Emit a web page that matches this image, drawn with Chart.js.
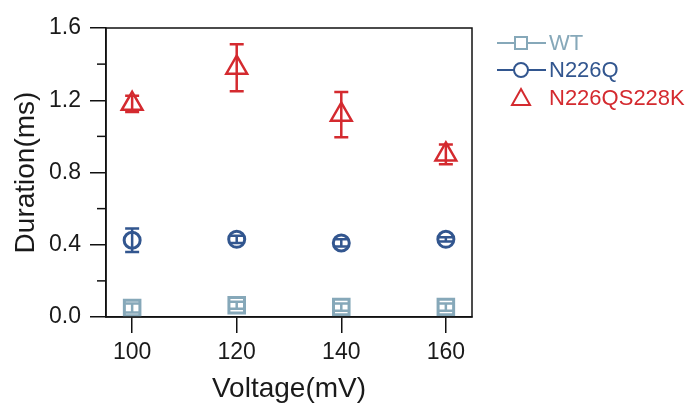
<!DOCTYPE html>
<html>
<head>
<meta charset="utf-8">
<script src="https://cdn.jsdelivr.net/npm/chart.js@4"></script>
<style>
  html, body { margin: 0; padding: 0; background: #fff; }
  #wrap { width: 694px; height: 406px; }
</style>
</head>
<body>
<div id="wrap"><canvas id="c" width="694" height="406"></canvas></div>
<script>
// 전압 (mV)
const voltages = [100, 120, 140, 160];
const xTicks = [100, 120, 140, 160];

// 지속시간 평균 (ms)
const wtValues = [0.05, 0.065, 0.055, 0.055];
const n226qValues = [0.425, 0.43, 0.41, 0.43];
const n226qs228kValues = [1.18, 1.38, 1.12, 0.90];

// 오차 (±)
const wtErrors = [0.025, 0.02, 0.02, 0.02];
const n226qErrors = [0.065, 0.02, 0.02, 0.012];
const n226qs228kErrors = [0.045, 0.13, 0.125, 0.055];

const seriesNames = ['WT', 'N226Q', 'N226QS228K'];
const colors = ['#86a8b9', '#32568f', '#d42a2f'];

const FONT = 'Liberation Sans, Arial, sans-serif';

function points(values) {
    return voltages.map((v, i) => ({ x: v, y: values[i] }));
}

function isMajor(v) {
    return Math.round(v * 10) % 4 === 0;
}

// 오차 막대 + 보조 눈금 + 테두리 상자 + 범례
const errorBarPlugin = {
    id: 'errorBars',
    afterDatasetsDraw(chart) {
        const ctx = chart.ctx;
        const xs = chart.scales.x;
        const ys = chart.scales.y;
        const errs = [wtErrors, n226qErrors, n226qs228kErrors];
        chart.data.datasets.forEach((ds, di) => {
            ctx.save();
            ctx.strokeStyle = colors[di];
            ctx.lineWidth = 2.5;
            ds.data.forEach((p, i) => {
                const px = xs.getPixelForValue(p.x);
                const top = ys.getPixelForValue(p.y + errs[di][i]);
                const bot = ys.getPixelForValue(p.y - errs[di][i]);
                ctx.beginPath();
                ctx.moveTo(px, top); ctx.lineTo(px, bot);
                ctx.moveTo(px - 7, top); ctx.lineTo(px + 7, top);
                ctx.moveTo(px - 7, bot); ctx.lineTo(px + 7, bot);
                ctx.stroke();
            });
            ctx.restore();
        });

        const a = chart.chartArea;
        ctx.save();
        ctx.strokeStyle = '#111';
        ctx.lineWidth = 1.5;
        // 보조 눈금 (짧은 것)
        ys.ticks.forEach(t => {
            if (!isMajor(t.value)) {
                const py = ys.getPixelForValue(t.value);
                ctx.beginPath();
                ctx.moveTo(a.left - 9, py); ctx.lineTo(a.left, py);
                ctx.stroke();
            }
        });
        // 상자 테두리
        ctx.strokeRect(a.left, a.top, a.right - a.left, a.bottom - a.top);
        ctx.restore();

        // 범례
        const lx = 521, ly = [43, 70, 98];
        const styles = ['rect', 'circle', 'triangle'];
        ctx.save();
        ctx.font = '22px ' + FONT;
        ctx.textBaseline = 'middle';
        seriesNames.forEach((name, i) => {
            ctx.strokeStyle = colors[i];
            ctx.lineWidth = 2;
            if (i < 2) {
                ctx.beginPath();
                ctx.moveTo(497, ly[i]); ctx.lineTo(546, ly[i]);
                ctx.stroke();
            }
            ctx.fillStyle = '#fff';
            ctx.beginPath();
            if (styles[i] === 'rect') {
                ctx.rect(lx - 6, ly[i] - 6, 12, 12);
            } else if (styles[i] === 'circle') {
                ctx.arc(lx, ly[i], 7, 0, Math.PI * 2);
            } else {
                ctx.moveTo(lx, ly[i] - 9);
                ctx.lineTo(lx + 9, ly[i] + 7);
                ctx.lineTo(lx - 9, ly[i] + 7);
                ctx.closePath();
            }
            ctx.fill();
            ctx.stroke();
            ctx.fillStyle = colors[i];
            ctx.fillText(name, 549, ly[i] + 1);
        });
        ctx.restore();
    }
};

new Chart(document.getElementById('c').getContext('2d'), {
    type: 'scatter',
    data: {
        datasets: [
            {
                label: seriesNames[0],
                data: points(wtValues),
                pointStyle: 'rect',
                pointRadius: 11,
                borderColor: colors[0],
                backgroundColor: '#fff',
                borderWidth: 3
            },
            {
                label: seriesNames[1],
                data: points(n226qValues),
                pointStyle: 'circle',
                pointRadius: 8,
                borderColor: colors[1],
                backgroundColor: '#fff',
                borderWidth: 3
            },
            {
                label: seriesNames[2],
                data: points(n226qs228kValues),
                pointStyle: 'triangle',
                pointRadius: 12,
                borderColor: colors[2],
                backgroundColor: '#fff',
                borderWidth: 2.5
            }
        ]
    },
    options: {
        responsive: false,
        animation: false,
        layout: { padding: { top: 28, right: 222, left: 0, bottom: 0 } },
        scales: {
            x: {
                type: 'linear',
                min: 95,
                max: 165,
                afterBuildTicks(scale) {
                    scale.ticks = xTicks.map(v => ({ value: v }));
                },
                afterFit(scale) { scale.height = 89; },
                grid: { drawOnChartArea: false, tickLength: 16, color: '#111', lineWidth: 1.5 },
                border: { color: '#111', width: 1.5 },
                ticks: { color: '#1a1a1a', font: { family: FONT, size: 23 }, padding: 6 },
                title: {
                    display: true,
                    text: 'Voltage(mV)',
                    color: '#1a1a1a',
                    font: { family: FONT, size: 28 },
                    padding: { top: 2, bottom: 0 }
                }
            },
            y: {
                min: 0,
                max: 1.6,
                afterFit(scale) { scale.width = 106; },
                grid: {
                    drawOnChartArea: false,
                    tickLength: 16,
                    lineWidth: 1.5,
                    tickColor: c => (c.tick && isMajor(c.tick.value)) ? '#111' : 'rgba(0,0,0,0)'
                },
                border: { color: '#111', width: 1.5 },
                ticks: {
                    stepSize: 0.2,
                    color: '#1a1a1a',
                    font: { family: FONT, size: 23 },
                    padding: 9,
                    callback(v) {
                        return isMajor(v) ? v.toFixed(1) : '';
                    }
                },
                title: {
                    display: true,
                    text: 'Duration(ms)',
                    color: '#1a1a1a',
                    font: { family: FONT, size: 28 },
                    padding: { top: 9, bottom: 0 }
                }
            }
        },
        plugins: {
            legend: { display: false },
            tooltip: { enabled: false }
        }
    },
    plugins: [errorBarPlugin]
});
</script>
</body>
</html>
